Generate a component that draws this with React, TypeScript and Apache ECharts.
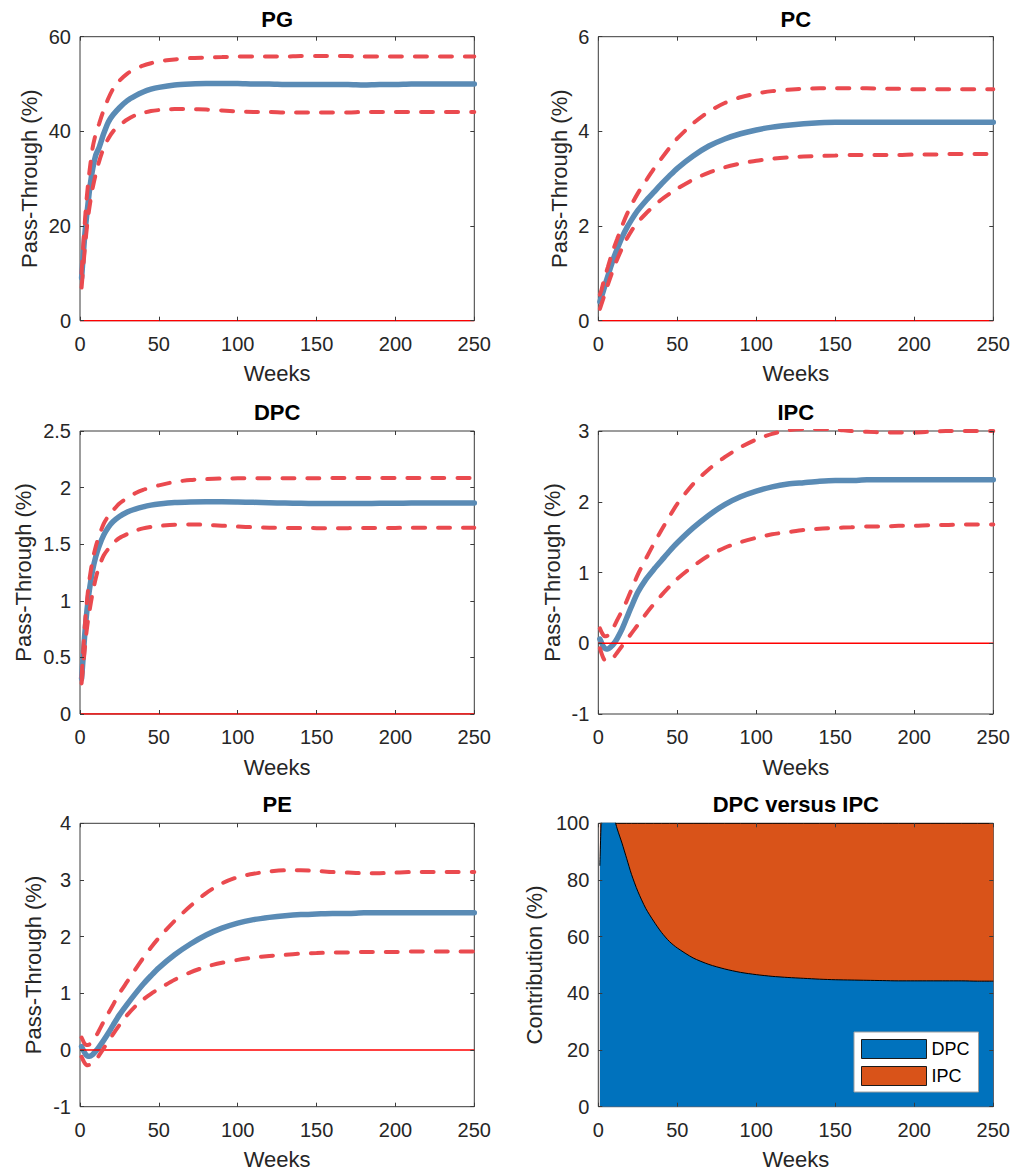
import React, { useEffect, useRef } from "react";
import * as echarts from "echarts";

// ---------------- data ----------------
const weeks = [1, 2, 3, 4, 5, 6, 8, 10, 12, 15, 18, 21, 25, 30, 35, 40, 45, 50, 60, 70, 80, 90, 100, 110, 120, 130, 140, 150, 160, 170, 180, 190, 200, 210, 220, 230, 240, 250];
const xTicks = [0, 50, 100, 150, 200, 250];

const pgMean = [9, 13.5, 18, 21.5, 24.5, 27.5, 32, 35, 36.5, 39.5, 42, 43.5, 45, 46.5, 47.5, 48.3, 48.9, 49.3, 49.8, 50, 50.1, 50.1, 50.1, 50, 50, 49.9, 49.9, 49.9, 49.9, 49.9, 49.8, 49.9, 49.9, 50, 50, 50, 50, 50];
const pgUpper = [10, 15.5, 20.5, 25, 28.5, 31.5, 36.5, 39.5, 41.5, 44.5, 47, 49, 50.7, 52.2, 53.2, 53.9, 54.4, 54.8, 55.2, 55.5, 55.6, 55.7, 55.8, 55.8, 55.8, 55.8, 55.9, 55.9, 55.9, 55.9, 55.8, 55.8, 55.8, 55.8, 55.8, 55.8, 55.8, 55.8];
const pgLower = [7, 11, 15, 18.5, 21.5, 24, 28, 31, 33.5, 36.5, 38.5, 40, 41.3, 42.5, 43.4, 43.9, 44.3, 44.5, 44.7, 44.7, 44.6, 44.4, 44.2, 44.1, 44.1, 44, 44, 44, 44, 44, 44.1, 44.1, 44.1, 44.1, 44.1, 44.1, 44.1, 44.1];

const pcMean = [0.4, 0.5, 0.61, 0.72, 0.83, 0.94, 1.15, 1.35, 1.52, 1.76, 1.96, 2.13, 2.33, 2.53, 2.71, 2.89, 3.06, 3.22, 3.48, 3.69, 3.84, 3.95, 4.03, 4.09, 4.13, 4.16, 4.18, 4.19, 4.19, 4.19, 4.19, 4.19, 4.19, 4.19, 4.19, 4.19, 4.19, 4.19];
const pcUpper = [0.55, 0.65, 0.78, 0.9, 1.02, 1.13, 1.35, 1.55, 1.73, 2.0, 2.24, 2.45, 2.69, 2.95, 3.2, 3.43, 3.65, 3.85, 4.17, 4.42, 4.6, 4.72, 4.8, 4.85, 4.88, 4.9, 4.91, 4.91, 4.91, 4.91, 4.9, 4.9, 4.89, 4.89, 4.89, 4.89, 4.89, 4.89];
const pcLower = [0.25, 0.35, 0.45, 0.56, 0.66, 0.76, 0.95, 1.14, 1.3, 1.53, 1.73, 1.9, 2.08, 2.26, 2.42, 2.56, 2.68, 2.79, 2.98, 3.13, 3.24, 3.32, 3.38, 3.42, 3.45, 3.47, 3.48, 3.49, 3.5, 3.5, 3.5, 3.5, 3.51, 3.51, 3.52, 3.52, 3.52, 3.52];

const dpcMean = [0.31, 0.5, 0.7, 0.86, 0.99, 1.1, 1.27, 1.39, 1.48, 1.58, 1.65, 1.7, 1.745, 1.785, 1.81, 1.83, 1.845, 1.855, 1.868, 1.873, 1.875, 1.875, 1.873, 1.87, 1.866, 1.863, 1.861, 1.86, 1.86, 1.86, 1.86, 1.861, 1.862, 1.863, 1.864, 1.865, 1.865, 1.865];
const dpcUpper = [0.32, 0.55, 0.77, 0.94, 1.08, 1.19, 1.36, 1.48, 1.57, 1.68, 1.75, 1.8, 1.86, 1.91, 1.95, 1.98, 2.0, 2.02, 2.05, 2.067, 2.075, 2.08, 2.082, 2.083, 2.083, 2.083, 2.083, 2.083, 2.084, 2.084, 2.085, 2.085, 2.085, 2.085, 2.085, 2.085, 2.085, 2.085];
const dpcLower = [0.27, 0.42, 0.57, 0.71, 0.82, 0.91, 1.07, 1.2, 1.3, 1.4, 1.46, 1.51, 1.555, 1.59, 1.62, 1.64, 1.653, 1.662, 1.672, 1.675, 1.671, 1.664, 1.656, 1.65, 1.646, 1.644, 1.643, 1.642, 1.642, 1.642, 1.643, 1.644, 1.644, 1.645, 1.645, 1.645, 1.645, 1.645];

const ipcMean = [0.06, 0.01, -0.04, -0.07, -0.08, -0.08, -0.05, 0.0, 0.07, 0.2, 0.36, 0.52, 0.72, 0.9, 1.04, 1.17, 1.3, 1.42, 1.63, 1.81, 1.96, 2.07, 2.15, 2.21, 2.25, 2.27, 2.29, 2.3, 2.3, 2.31, 2.31, 2.31, 2.31, 2.31, 2.31, 2.31, 2.31, 2.31];
const ipcUpper = [0.21, 0.16, 0.12, 0.1, 0.1, 0.11, 0.16, 0.24, 0.33, 0.46, 0.6, 0.76, 0.97, 1.19, 1.4, 1.6, 1.79, 1.97, 2.25, 2.46, 2.63, 2.77, 2.88, 2.96, 3.01, 3.03, 3.03, 3.02, 3.0, 2.99, 2.98, 2.98, 2.98, 2.99, 3.0, 3.0, 3.0, 3.0];
const ipcLower = [-0.07, -0.14, -0.2, -0.24, -0.25, -0.25, -0.23, -0.19, -0.13, -0.04, 0.05, 0.14, 0.26, 0.41, 0.55, 0.68, 0.8, 0.91, 1.09, 1.24, 1.35, 1.43, 1.49, 1.54, 1.57, 1.6, 1.62, 1.63, 1.64, 1.65, 1.65, 1.66, 1.66, 1.67, 1.67, 1.68, 1.68, 1.68];

const peMean = [0.06, 0.0, -0.05, -0.09, -0.11, -0.11, -0.08, -0.02, 0.05, 0.17, 0.3, 0.44, 0.62, 0.81, 0.99, 1.16, 1.31, 1.45, 1.68, 1.87, 2.03, 2.15, 2.24, 2.3, 2.34, 2.37, 2.39, 2.4, 2.41, 2.41, 2.42, 2.42, 2.42, 2.42, 2.42, 2.42, 2.42, 2.42];
const peUpper = [0.22, 0.16, 0.11, 0.09, 0.09, 0.1, 0.16, 0.24, 0.34, 0.5, 0.65, 0.8, 1.0, 1.21, 1.42, 1.62, 1.81, 1.98, 2.28, 2.54, 2.77, 2.94, 3.05, 3.11, 3.15, 3.17, 3.17, 3.16, 3.14, 3.13, 3.12, 3.12, 3.13, 3.14, 3.14, 3.14, 3.14, 3.14];
const peLower = [-0.12, -0.18, -0.23, -0.26, -0.27, -0.26, -0.23, -0.18, -0.1, 0.03, 0.15, 0.28, 0.44, 0.62, 0.77, 0.89, 0.99, 1.08, 1.24, 1.37, 1.47, 1.54, 1.59, 1.63, 1.66, 1.68, 1.7, 1.71, 1.72, 1.72, 1.73, 1.73, 1.73, 1.74, 1.74, 1.74, 1.74, 1.74];

const dpcShare = [85, 103, 107, 110, 111, 110, 106, 102, 98, 93, 87.5, 82, 76, 70, 65.5, 61.5, 58.3, 56, 52.5, 50.2, 48.6, 47.4, 46.6, 46, 45.6, 45.3, 45, 44.8, 44.7, 44.6, 44.5, 44.4, 44.4, 44.4, 44.4, 44.4, 44.3, 44.3];
const ipcShare = [15, -3, -7, -10, -11, -10, -6, -2, 2, 7, 12.5, 18, 24, 30, 34.5, 38.5, 41.7, 44, 47.5, 49.8, 51.4, 52.6, 53.4, 54, 54.4, 54.7, 55, 55.2, 55.3, 55.4, 55.5, 55.6, 55.6, 55.6, 55.6, 55.6, 55.7, 55.7];

// ---------------- styles / layout ----------------
const FONT = "'Liberation Sans', Arial, Helvetica, sans-serif";
const AXIS = "#262626";
const AXIS_LINE = "#3a3a3a";
const BLUE = "#5a8bb5";
const RED = "#ea4a4f";
const ZERO = "#ff0000";

const colLeft = [80, 598.3];
const colWidth = [394.3, 395];
const rowTop = [36.7, 431, 823.3];
const rowHeight = [284, 283, 283.4];
const titleTop = [8, 401.5, 793];

type Panel = {
  title: string;
  col: number;
  row: number;
  yMin: number;
  yMax: number;
  yInt: number;
  yName: string;
  nameGap: number;
  mean?: number[];
  upper?: number[];
  lower?: number[];
  share?: boolean;
};

const panels: Panel[] = [
  { title: "PG", col: 0, row: 0, yMin: 0, yMax: 60, yInt: 20, yName: "Pass-Through (%)", nameGap: 40, mean: pgMean, upper: pgUpper, lower: pgLower },
  { title: "PC", col: 1, row: 0, yMin: 0, yMax: 6, yInt: 2, yName: "Pass-Through (%)", nameGap: 28, mean: pcMean, upper: pcUpper, lower: pcLower },
  { title: "DPC", col: 0, row: 1, yMin: 0, yMax: 2.5, yInt: 0.5, yName: "Pass-Through (%)", nameGap: 46, mean: dpcMean, upper: dpcUpper, lower: dpcLower },
  { title: "IPC", col: 1, row: 1, yMin: -1, yMax: 3, yInt: 1, yName: "Pass-Through (%)", nameGap: 35, mean: ipcMean, upper: ipcUpper, lower: ipcLower },
  { title: "PE", col: 0, row: 2, yMin: -1, yMax: 4, yInt: 1, yName: "Pass-Through (%)", nameGap: 36, mean: peMean, upper: peUpper, lower: peLower },
  { title: "DPC versus IPC", col: 1, row: 2, yMin: 0, yMax: 100, yInt: 20, yName: "Contribution (%)", nameGap: 53, share: true },
];

const pairs = (ys: number[]) => weeks.map((w, i) => [w, ys[i]]);
// cumulative top of the stacked IPC band (DPC share + IPC share)
const stackedTop = () => weeks.map((w, i) => [w, dpcShare[i] + ipcShare[i]]);
// zero reference line across the full x-axis range
const zeroLine = () => [[xTicks[0], 0], [xTicks[xTicks.length - 1], 0]];

const mkTick = () => ({ show: true, inside: true, length: 4, lineStyle: { color: AXIS_LINE, width: 1 } });

function buildOption() {
  const grid: any[] = [];
  const xAxis: any[] = [];
  const yAxis: any[] = [];
  const series: any[] = [];
  const title: any[] = [];

  panels.forEach((p, g) => {
    const left = colLeft[p.col];
    const width = colWidth[p.col];
    const top = rowTop[p.row];
    const height = rowHeight[p.row];
    grid.push({
      left,
      top,
      width,
      height,
      containLabel: false,
      show: true,
      backgroundColor: "transparent",
      borderColor: AXIS_LINE,
      borderWidth: 1,
      z: 0,
    });

    title.push({
      text: p.title,
      left: left + width / 2,
      top: titleTop[p.row],
      textAlign: "center",
      padding: 0,
      textStyle: { fontFamily: FONT, fontSize: 22, fontWeight: "bold", color: "#000" },
    });

    xAxis.push({
      type: "value",
      gridIndex: g,
      position: "bottom",
      min: xTicks[0],
      max: xTicks[xTicks.length - 1],
      interval: xTicks[1] - xTicks[0],
      axisLine: { show: false, onZero: false },
      axisTick: mkTick(),
      splitLine: { show: false },
      axisLabel: { color: AXIS, fontFamily: FONT, fontSize: 20, margin: 13 },
      name: "Weeks",
      nameLocation: "middle",
      nameGap: 42,
      nameTextStyle: { color: AXIS, fontFamily: FONT, fontSize: 22 },
      z: 10,
    });
    xAxis.push({
      type: "value",
      gridIndex: g,
      position: "top",
      min: xTicks[0],
      max: xTicks[xTicks.length - 1],
      interval: xTicks[1] - xTicks[0],
      axisLine: { show: false, onZero: false },
      axisTick: mkTick(),
      splitLine: { show: false },
      axisLabel: { show: false },
      z: 10,
    });
    yAxis.push({
      type: "value",
      gridIndex: g,
      position: "left",
      min: p.yMin,
      max: p.yMax,
      interval: p.yInt,
      axisLine: { show: false, onZero: false },
      axisTick: mkTick(),
      splitLine: { show: false },
      axisLabel: { color: AXIS, fontFamily: FONT, fontSize: 20, margin: 9 },
      name: p.yName,
      nameLocation: "middle",
      nameGap: p.nameGap,
      nameTextStyle: { color: AXIS, fontFamily: FONT, fontSize: 22 },
      z: 10,
    });
    yAxis.push({
      type: "value",
      gridIndex: g,
      position: "right",
      min: p.yMin,
      max: p.yMax,
      interval: p.yInt,
      axisLine: { show: false, onZero: false },
      axisTick: mkTick(),
      splitLine: { show: false },
      axisLabel: { show: false },
      z: 10,
    });

    const xi = g * 2;
    const yi = g * 2;

    if (p.share) {
      series.push({
        name: "IPC",
        type: "line",
        xAxisIndex: xi,
        yAxisIndex: yi,
        data: stackedTop(),
        smooth: false,
        symbol: "none",
        showSymbol: false,
        color: "#D95319",
        itemStyle: { color: "#D95319" },
        lineStyle: { color: "#000", width: 1 },
        areaStyle: { color: "#D95319", opacity: 1, origin: "start" },
        z: 1,
      });
      series.push({
        name: "DPC",
        type: "line",
        xAxisIndex: xi,
        yAxisIndex: yi,
        data: pairs(dpcShare),
        smooth: 0.25,
        symbol: "none",
        showSymbol: false,
        color: "#0072BD",
        itemStyle: { color: "#0072BD" },
        lineStyle: { color: "#000", width: 1 },
        areaStyle: { color: "#0072BD", opacity: 1, origin: "start" },
        z: 2,
      });
    } else {
      series.push({
        name: p.title + " estimate",
        type: "line",
        xAxisIndex: xi,
        yAxisIndex: yi,
        data: pairs(p.mean!),
        smooth: 0.25,
        symbol: "none",
        showSymbol: false,
        lineStyle: { color: BLUE, width: 5.5, cap: "round", join: "round" },
        z: 3,
      });
      [p.upper!, p.lower!].forEach((band, bi) => {
        series.push({
          name: p.title + (bi === 0 ? " upper" : " lower"),
          type: "line",
          xAxisIndex: xi,
          yAxisIndex: yi,
          data: pairs(band),
          smooth: 0.25,
          symbol: "none",
          showSymbol: false,
          lineStyle: { color: RED, width: 4, type: [12, 13], cap: "round" },
          z: 5,
        });
      });
      series.push({
        name: p.title + " zero",
        type: "line",
        xAxisIndex: xi,
        yAxisIndex: yi,
        data: zeroLine(),
        symbol: "none",
        showSymbol: false,
        color: ZERO,
        lineStyle: { color: ZERO, width: 1.4, type: "solid" },
        z: 4,
      });
    }
  });

  return {
    animation: false,
    backgroundColor: "#fff",
    title,
    grid,
    xAxis,
    yAxis,
    series,
    legend: {
      data: ["DPC", "IPC"],
      orient: "vertical",
      left: 854,
      top: 1032,
      padding: [7, 9, 6, 7],
      itemGap: 7,
      itemWidth: 65,
      itemHeight: 19,
      icon: "rect",
      selectedMode: false,
      backgroundColor: "#fff",
      borderColor: "#a0a0a0",
      borderWidth: 1,
      borderRadius: 0,
      itemStyle: { borderColor: "#1a1a1a", borderWidth: 1 },
      textStyle: { fontFamily: FONT, fontSize: 18, color: "#000" },
    },
  };
}

export default function App() {
  const ref = useRef<HTMLDivElement>(null);
  useEffect(() => {
    if (!ref.current) return;
    const chart = echarts.init(ref.current, null, { renderer: "svg" });
    chart.setOption(buildOption() as any);
    return () => chart.dispose();
  }, []);
  return (
    <div
      ref={ref}
      style={{ position: "absolute", left: 0, top: 0, width: 1013, height: 1174, background: "#fff" }}
    />
  );
}
